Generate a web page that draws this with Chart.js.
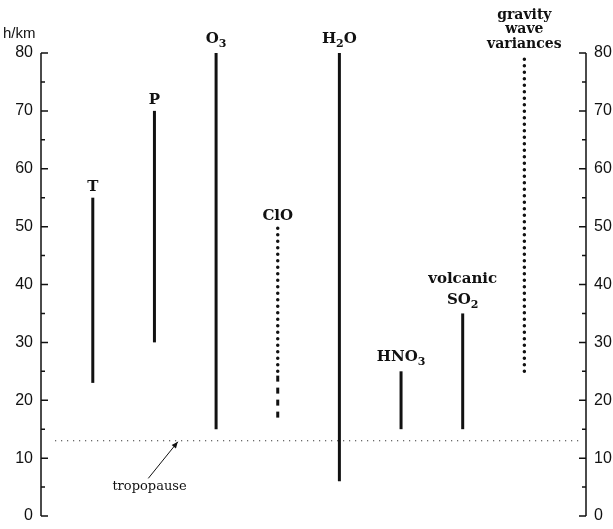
<!DOCTYPE html>
<html>
<head>
<meta charset="utf-8">
<script src="https://cdn.jsdelivr.net/npm/chart.js@4"></script>
<style>
  html, body { margin: 0; padding: 0; background: #fff; }
  #wrap { width: 613px; height: 529px; }
</style>
</head>
<body>
<div id="wrap"><canvas id="chart" width="613" height="529"></canvas></div>
<script>
// Datos (altura en km)
const labels   = ['T', 'P', 'O_3', 'ClO', 'H_2O', 'HNO_3', 'volcanic|SO_2', 'gravity|wave|variances'];
const posX     = [1, 2, 3, 4, 5, 6, 7, 8];
const bottoms  = [23, 30, 15, 25, 6, 15, 15, 25];
const tops     = [55, 70, 80, 50, 80, 25, 35, 79];
const estilos  = ['solid', 'solid', 'solid', 'dots', 'solid', 'solid', 'solid', 'dots'];
// tramo discontinuo de ClO
const cloDashed = [17, 25];
const tropopausa = 13;
const yTicks = [0, 10, 20, 30, 40, 50, 60, 70, 80];

const negro = '#111';

const datasets = posX.map((x, i) => {
    const ds = {
        data: [{ x: x, y: bottoms[i] }, { x: x, y: tops[i] }],
        borderColor: negro,
        borderWidth: 3,
        pointRadius: 0
    };
    if (estilos[i] === 'dots') {
        ds.borderDash = [0, 6.5];
        ds.borderCapStyle = 'round';
        ds.borderWidth = 3.5;
    }
    return ds;
});
datasets.push({
    data: [{ x: 4, y: cloDashed[0] }, { x: 4, y: cloDashed[1] }],
    borderColor: negro, borderWidth: 3, borderDash: [6, 6], pointRadius: 0
});
datasets.push({
    data: [{ x: 0.39, y: tropopausa }, { x: 8.9, y: tropopausa }],
    borderColor: negro, borderWidth: 1, borderDash: [1, 5], pointRadius: 0
});

// Dibuja texto con subíndices (formato "H_2O": el dígito tras "_" va abajo)
function textoSub(ctx, txt, cx, base, size) {
    const fMain = 'bold ' + size + 'px "DejaVu Serif"';
    const fSub = 'bold ' + Math.round(size * 0.7) + 'px "DejaVu Serif"';
    const trozos = [];
    txt.split(/(_\d)/).forEach(p => {
        if (!p) return;
        if (p[0] === '_') trozos.push({ t: p.slice(1), sub: true });
        else trozos.push({ t: p, sub: false });
    });
    let w = 0;
    trozos.forEach(tr => { ctx.font = tr.sub ? fSub : fMain; w += ctx.measureText(tr.t).width; });
    let x = cx - w / 2;
    ctx.textAlign = 'left';
    trozos.forEach(tr => {
        ctx.font = tr.sub ? fSub : fMain;
        ctx.fillText(tr.t, x, tr.sub ? base + 4 : base);
        x += ctx.measureText(tr.t).width;
    });
}

const extras = {
    id: 'extras',
    afterDraw(chart) {
        const ctx = chart.ctx;
        const xs = chart.scales.x, yl = chart.scales.y;
        const y0 = yl.getPixelForValue(0), y80 = yl.getPixelForValue(80);
        const xl = chart.chartArea.left, xr = chart.chartArea.right;
        ctx.save();
        ctx.strokeStyle = negro;
        ctx.fillStyle = negro;
        ctx.lineWidth = 1.5;
        // ejes izquierdo y derecho
        ctx.beginPath();
        ctx.moveTo(xl, y80); ctx.lineTo(xl, y0);
        ctx.moveTo(xr, y80); ctx.lineTo(xr, y0);
        for (let v = 0; v <= 80; v += 5) {
            const py = yl.getPixelForValue(v);
            const len = v % 10 === 0 ? 7 : 4;
            ctx.moveTo(xl, py); ctx.lineTo(xl + len, py);
            ctx.moveTo(xr, py); ctx.lineTo(xr - len, py);
        }
        ctx.stroke();

        // etiquetas de cada serie
        ctx.textBaseline = 'alphabetic';
        labels.forEach((lab, i) => {
            const cx = xs.getPixelForValue(posX[i]);
            const topPx = yl.getPixelForValue(tops[i]);
            const lineas = lab.split('|');
            const size = lineas.length > 2 ? 14 : 15;
            lineas.forEach((ln, j) => {
                const desde = lineas.length - 1 - j;
                let base;
                if (lineas.length === 3) base = topPx - 11 - desde * 14.5;
                else if (lineas.length === 2) base = topPx - 6 - desde * 24;
                else base = topPx - 7;
                if (ln.indexOf('_') >= 0) base -= 3;
                textoSub(ctx, ln, cx, base, size);
            });
        });

        // flecha de la tropopausa
        const tx = xs.getPixelForValue(2.38), ty = yl.getPixelForValue(tropopausa) + 1;
        const sx = xs.getPixelForValue(1.9), sy = yl.getPixelForValue(6.5);
        ctx.lineWidth = 1;
        ctx.beginPath();
        ctx.moveTo(sx, sy); ctx.lineTo(tx, ty);
        ctx.stroke();
        const ang = Math.atan2(ty - sy, tx - sx);
        ctx.beginPath();
        ctx.moveTo(tx, ty);
        ctx.lineTo(tx - 7 * Math.cos(ang - 0.4), ty - 7 * Math.sin(ang - 0.4));
        ctx.lineTo(tx - 7 * Math.cos(ang + 0.4), ty - 7 * Math.sin(ang + 0.4));
        ctx.closePath();
        ctx.fill();
        ctx.font = '13px "DejaVu Serif"';
        ctx.textAlign = 'center';
        ctx.fillText('tropopause', xs.getPixelForValue(1.92), yl.getPixelForValue(4.5));

        // unidad del eje
        ctx.font = '15px "Liberation Sans"';
        ctx.textAlign = 'left';
        ctx.fillText('h/km', 3, 38);
        ctx.restore();
    }
};

const tickFont = { family: 'Liberation Sans', size: 16 };

// ancho fijo de los ejes y sin relleno extra arriba/abajo
function ajustarEje(ancho) {
    return s => {
        s.width = ancho;
        s.paddingTop = 0;
        s.paddingBottom = 0;
    };
}

new Chart(document.getElementById('chart').getContext('2d'), {
    type: 'line',
    data: { datasets: datasets },
    options: {
        responsive: false,
        animation: false,
        layout: { autoPadding: false, padding: { top: 53, bottom: 13, left: 0, right: 0 } },
        plugins: { legend: { display: false }, tooltip: { enabled: false } },
        scales: {
            x: { type: 'linear', min: 0.16, max: 9, display: false },
            y: {
                type: 'linear', position: 'left', min: 0, max: 80,
                afterFit: ajustarEje(41),
                afterBuildTicks: s => { s.ticks = yTicks.map(v => ({ value: v })); },
                grid: { display: false, drawTicks: false },
                border: { display: false },
                ticks: { color: negro, padding: 8, font: tickFont }
            },
            y2: {
                type: 'linear', position: 'right', min: 0, max: 80,
                afterFit: ajustarEje(27),
                afterBuildTicks: s => { s.ticks = yTicks.map(v => ({ value: v })); },
                grid: { display: false, drawTicks: false },
                border: { display: false },
                ticks: { color: negro, padding: 8, font: tickFont }
            }
        }
    },
    plugins: [extras]
});
</script>
</body>
</html>
